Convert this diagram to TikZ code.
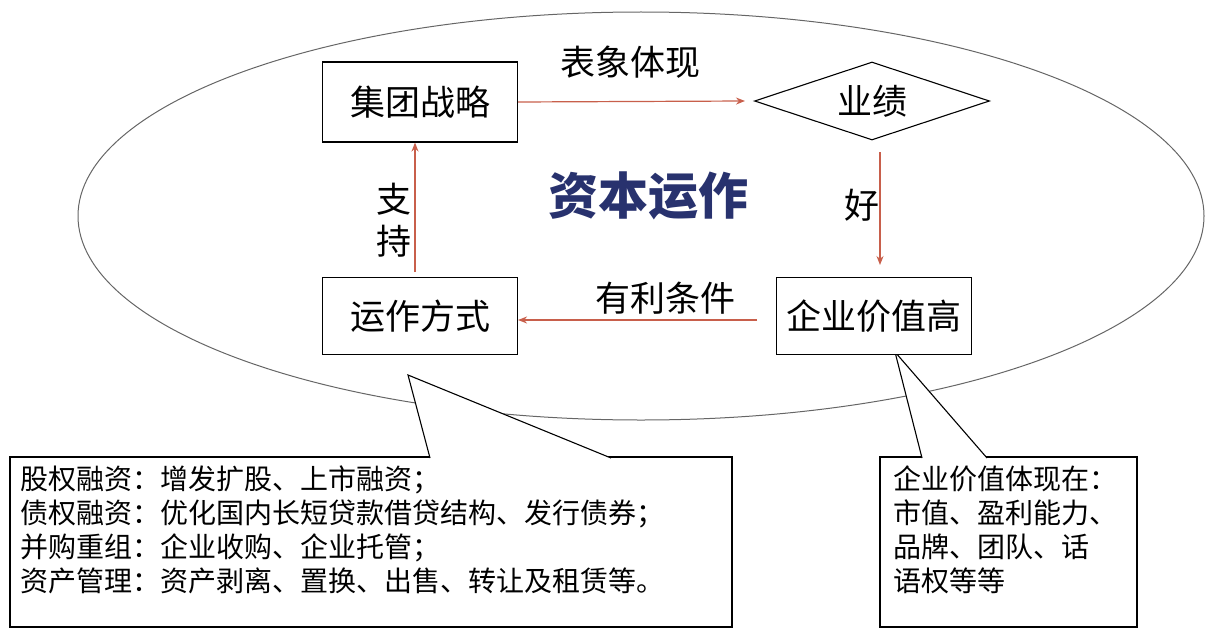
\documentclass[tikz,border=0pt]{standalone}
\usepackage{fontspec}
\setmainfont{Noto Sans CJK SC}
\usetikzlibrary{shapes.geometric,arrows.meta}
\definecolor{arr}{RGB}{200,95,75}
\definecolor{ttl}{RGB}{40,50,110}
\begin{document}
\begin{tikzpicture}[x=1pt,y=-1pt,
  bx/.style={draw,line width=1.1pt,fill=white},
  ar/.style={draw=arr,line width=1.2pt,-{Stealth[length=9pt,width=7pt]}},
  t/.style={font=\fontsize{35}{40}\selectfont},
  st/.style={font=\fontsize{28}{34}\selectfont,align=left,anchor=north west,inner sep=0pt}]
\useasboundingbox (0,0) rectangle (1220,642);
\draw[gray!80!black,line width=1pt] (641,216) ellipse [x radius=563, y radius=204];
\draw[bx] (10,457) rectangle (732,627);
\draw[bx] (880,457) rectangle (1137,627);
\draw[line width=1.1pt,fill=white] (430,458) -- (408,375) -- (611,458);
\draw[line width=1.1pt,fill=white] (922,458) -- (895,352) -- (987,458);
\node[bx,t,minimum width=195pt,minimum height=80pt] (jt) at (420,102) {集团战略};
\node[bx,t,minimum width=195pt,minimum height=77pt] (yz) at (420,316) {运作方式};
\node[bx,t,minimum width=195pt,minimum height=77pt,inner sep=2pt] (qy) at (874,316) {企业价值高};
\node[draw,line width=1.1pt,diamond,aspect=3,t,minimum width=235pt,minimum height=78pt,inner sep=0pt] (yj) at (872,101) {业绩};
\draw[ar] (jt.east) -- (745,101);
\draw[ar] (880,152) -- (880,265);
\draw[ar] (757,320) -- (yz.east |- 0,320);
\draw[ar] (415,272) -- (jt.south -| 415,0);
\node[t] (bx) at (630,62) {表象体现};
\node[font=\bfseries\fontsize{50}{54}\selectfont,text=ttl] (zb) at (648,196) {资本运作};
\node[t] (h) at (862,205) {好};
\node[t,align=center,font=\fontsize{35}{42}\selectfont] (zc) at (394,220) {支\\持};
\node[t] (yl) at (665,298) {有利条件};
\node[st] (l) at (20,466) {股权融资：增发扩股、上市融资；\\债权融资：优化国内长短贷款借贷结构、发行债券；\\并购重组：企业收购、企业托管；\\资产管理：资产剥离、置换、出售、转让及租赁等。};
\node[st] (r) at (893,466) {企业价值体现在：\\市值、盈利能力、\\品牌、团队、话\\语权等等};
\end{tikzpicture}
\end{document}
